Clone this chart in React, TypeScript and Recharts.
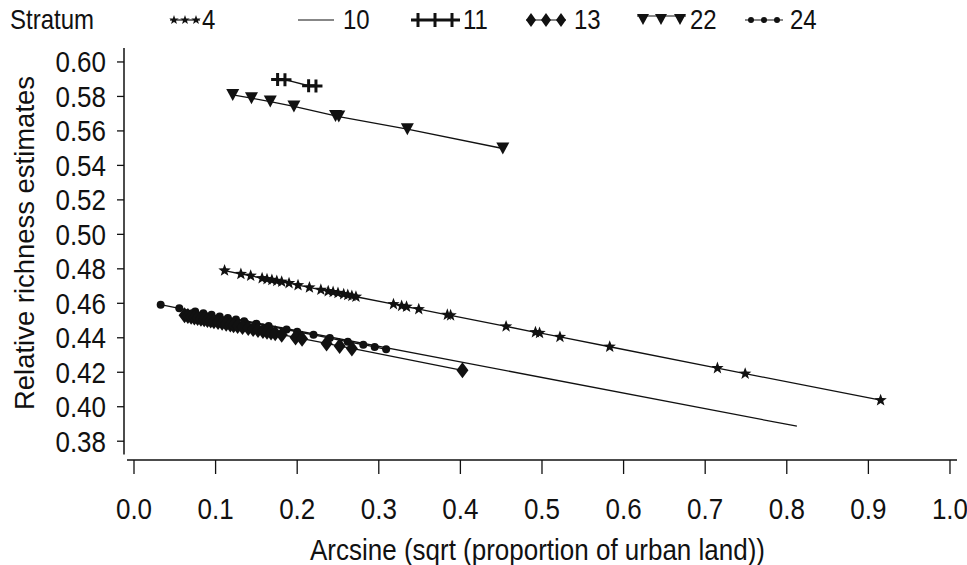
import React from 'react';
import { ScatterChart, Scatter, XAxis, YAxis, ReferenceLine, Legend } from 'recharts';

const FONT = '"Liberation Sans", Arial, Helvetica, sans-serif';

// Axis ticks
const xTicks = [0, 0.1, 0.2, 0.3, 0.4, 0.5, 0.6, 0.7, 0.8, 0.9, 1.0];
const yTicks = [0.38, 0.4, 0.42, 0.44, 0.46, 0.48, 0.5, 0.52, 0.54, 0.56, 0.58, 0.6];

const X_MIN = -0.01225;
const X_MAX = 1.0086;
const Y_MIN = 0.3691;
const Y_MAX = 0.6081;

// Stratum 4 (stars)
const stratum4 = [
  { x: 0.111, y: 0.479 }, { x: 0.131, y: 0.477 }, { x: 0.143, y: 0.476 }, { x: 0.157, y: 0.4745 },
  { x: 0.163, y: 0.474 }, { x: 0.169, y: 0.4735 }, { x: 0.175, y: 0.473 }, { x: 0.181, y: 0.4725 },
  { x: 0.19, y: 0.4717 }, { x: 0.201, y: 0.4705 }, { x: 0.215, y: 0.4692 }, { x: 0.229, y: 0.4678 },
  { x: 0.238, y: 0.467 }, { x: 0.244, y: 0.4665 }, { x: 0.25, y: 0.466 }, { x: 0.257, y: 0.4653 },
  { x: 0.262, y: 0.4648 }, { x: 0.267, y: 0.4643 }, { x: 0.272, y: 0.4638 }, { x: 0.318, y: 0.4595 },
  { x: 0.328, y: 0.4585 }, { x: 0.334, y: 0.458 }, { x: 0.349, y: 0.4566 }, { x: 0.384, y: 0.4533 },
  { x: 0.388, y: 0.453 }, { x: 0.456, y: 0.4466 }, { x: 0.492, y: 0.4432 }, { x: 0.497, y: 0.4428 },
  { x: 0.522, y: 0.4405 }, { x: 0.583, y: 0.4348 }, { x: 0.715, y: 0.4224 }, { x: 0.749, y: 0.4192 },
  { x: 0.915, y: 0.4038 },
];

// Stratum 10 (line only)
const stratum10 = [
  { x: 0.118, y: 0.4515 },
  { x: 0.8124, y: 0.3887 },
];

// Stratum 11 (plus)
const stratum11 = [
  { x: 0.176, y: 0.5898 }, { x: 0.185, y: 0.5897 }, { x: 0.214, y: 0.5862 }, { x: 0.223, y: 0.5861 },
];

// Stratum 13 (diamonds)
const stratum13 = [
  { x: 0.062, y: 0.453 }, { x: 0.066, y: 0.4526 }, { x: 0.07, y: 0.4522 }, { x: 0.074, y: 0.4518 },
  { x: 0.078, y: 0.4515 }, { x: 0.082, y: 0.4511 }, { x: 0.086, y: 0.4507 }, { x: 0.09, y: 0.4503 },
  { x: 0.094, y: 0.45 }, { x: 0.098, y: 0.4496 }, { x: 0.103, y: 0.4491 }, { x: 0.108, y: 0.4487 },
  { x: 0.113, y: 0.4482 }, { x: 0.118, y: 0.4477 }, { x: 0.122, y: 0.4473 }, { x: 0.127, y: 0.4469 },
  { x: 0.133, y: 0.4463 }, { x: 0.14, y: 0.4457 }, { x: 0.146, y: 0.4451 }, { x: 0.152, y: 0.4445 },
  { x: 0.158, y: 0.444 }, { x: 0.163, y: 0.4435 }, { x: 0.168, y: 0.443 }, { x: 0.173, y: 0.4426 },
  { x: 0.181, y: 0.4418 }, { x: 0.198, y: 0.4402 }, { x: 0.206, y: 0.4395 }, { x: 0.236, y: 0.4367 },
  { x: 0.252, y: 0.4352 }, { x: 0.267, y: 0.4338 }, { x: 0.4025, y: 0.4211 },
];

// Stratum 22 (triangles down)
const stratum22 = [
  { x: 0.121, y: 0.5809 }, { x: 0.144, y: 0.579 }, { x: 0.167, y: 0.577 }, { x: 0.196, y: 0.5742 },
  { x: 0.247, y: 0.5687 }, { x: 0.251, y: 0.5683 }, { x: 0.335, y: 0.561 }, { x: 0.452, y: 0.5498 },
];

// Stratum 24 (dots)
const stratum24 = [
  { x: 0.0327, y: 0.4592 }, { x: 0.0555, y: 0.4571 }, { x: 0.075, y: 0.4552 }, { x: 0.085, y: 0.4543 },
  { x: 0.095, y: 0.4534 }, { x: 0.105, y: 0.4524 }, { x: 0.115, y: 0.4515 }, { x: 0.125, y: 0.4506 },
  { x: 0.135, y: 0.4496 }, { x: 0.15, y: 0.4482 }, { x: 0.165, y: 0.4468 }, { x: 0.187, y: 0.4448 },
  { x: 0.2, y: 0.4435 }, { x: 0.22, y: 0.4417 }, { x: 0.24, y: 0.4398 }, { x: 0.262, y: 0.4377 },
  { x: 0.281, y: 0.436 }, { x: 0.295, y: 0.4347 }, { x: 0.309, y: 0.4333 },
];

const INK = '#111';
const STRETCH = 1.15;

const starPts = (cx: number, cy: number, R: number, r: number) => {
  const pts: string[] = [];
  for (let i = 0; i < 10; i++) {
    const a = -Math.PI / 2 + (i * Math.PI) / 5;
    const rad = i % 2 === 0 ? R : r;
    pts.push(`${cx + rad * Math.cos(a)},${cy + rad * Math.sin(a)}`);
  }
  return pts.join(' ');
};

const StarMark = (p: any) => <polygon points={starPts(p.cx, p.cy, 6.5, 2.7)} fill={INK} />;
const PlusMark = (p: any) => (
  <path d={`M${p.cx - 6.5},${p.cy}H${p.cx + 6.5}M${p.cx},${p.cy - 6.5}V${p.cy + 6.5}`} stroke={INK} strokeWidth={3} fill="none" />
);
const DiamondMark = (p: any) => (
  <polygon points={`${p.cx},${p.cy - 8} ${p.cx + 6},${p.cy} ${p.cx},${p.cy + 8} ${p.cx - 6},${p.cy}`} fill={INK} />
);
const TriMark = (p: any) => (
  <polygon points={`${p.cx - 6.5},${p.cy - 6} ${p.cx + 6.5},${p.cy - 6} ${p.cx},${p.cy + 6}`} fill={INK} />
);
const DotMark = (p: any) => <circle cx={p.cx} cy={p.cy} r={4} fill={INK} />;
const NoMark = () => <g />;

const lineStyle = { stroke: INK, strokeWidth: 1.3 };

// Text stretched vertically about its baseline (scan aspect of the original)
const SText = ({ x, y, size, anchor, children }: any) => (
  <g transform={`translate(${x},${y}) scale(1,${STRETCH})`}>
    <text x={0} y={0} textAnchor={anchor || 'start'} fontSize={size} fontFamily={FONT} fill={INK}>
      {children}
    </text>
  </g>
);

const XTick = (props: any) => {
  const { x, y, payload } = props;
  return (
    <SText x={x} y={y + 18.5} size={26} anchor="middle">
      {Number(payload.value).toFixed(1)}
    </SText>
  );
};

const YTick = (props: any) => {
  const { x, y, payload } = props;
  return (
    <SText x={x} y={y + 10.5} size={26} anchor="end">
      {Number(payload.value).toFixed(2)}
    </SText>
  );
};

const LegendContent = () => {
  const ty = 29;
  const my = 20;
  const t = (x: number, s: string) => <SText x={x} y={ty} size={24}>{s}</SText>;
  return (
    <svg width={967} height={44} style={{ display: 'block' }}>
      {t(10, 'Stratum')}
      {/* 4 */}
      <line x1={170} y1={my} x2={200} y2={my} stroke={INK} strokeWidth={1.2} />
      {[174, 185, 196].map((x) => <polygon key={x} points={starPts(x, my, 5, 2)} fill={INK} />)}
      {t(202, '4')}
      {/* 10 */}
      <line x1={298} y1={my} x2={334} y2={my} stroke={INK} strokeWidth={1.2} />
      {t(343, '10')}
      {/* 11 */}
      <line x1={411} y1={my} x2={460} y2={my} stroke={INK} strokeWidth={3} />
      {[418, 435, 452].map((x) => <path key={x} d={`M${x},${my - 7}V${my + 7}`} stroke={INK} strokeWidth={3} />)}
      {t(463, '11')}
      {/* 13 */}
      <line x1={526} y1={my} x2={566} y2={my} stroke={INK} strokeWidth={1.2} />
      {[531, 546, 561].map((x) => <polygon key={x} points={`${x},${my - 7} ${x + 5},${my} ${x},${my + 7} ${x - 5},${my}`} fill={INK} />)}
      {t(574, '13')}
      {/* 22 */}
      <line x1={637} y1={my - 4} x2={686} y2={my - 4} stroke={INK} strokeWidth={1.2} />
      {[643, 661, 680].map((x) => <polygon key={x} points={`${x - 6},${my - 6} ${x + 6},${my - 6} ${x},${my + 5}`} fill={INK} />)}
      {t(690, '22')}
      {/* 24 */}
      <line x1={745} y1={my} x2={783} y2={my} stroke={INK} strokeWidth={1.2} />
      {[751, 764, 777].map((x) => <circle key={x} cx={x} cy={my} r={3} fill={INK} />)}
      {t(790, '24')}
    </svg>
  );
};

const YTitle = () => {
  const cy = 243;
  const bx = 34;
  return (
    <text
      x={bx}
      y={cy}
      transform={`rotate(-90, ${bx}, ${cy})`}
      textAnchor="middle"
      fontSize={27}
      fontFamily={FONT}
      fill={INK}
      textLength={334}
      lengthAdjust="spacingAndGlyphs"
    >
      Relative richness estimates
    </text>
  );
};

const XTitle = (props: any) => {
  const vb = props.viewBox || { x: 124, width: 833 };
  const cx = vb.x + vb.width / 2 - 3;
  return (
    <SText x={cx} y={560} size={26} anchor="middle">
      Arcsine (sqrt (proportion of urban land))
    </SText>
  );
};

export default function App() {
  return (
    <div style={{ position: 'absolute', left: 0, top: 0, background: '#fff' }}>
      <ScatterChart width={967} height={565} margin={{ top: 48, right: 10, bottom: 0, left: 0 }}>
        <XAxis
          type="number"
          dataKey="x"
          domain={[X_MIN, X_MAX]}
          ticks={xTicks}
          interval={0}
          allowDataOverflow
          axisLine={false}
          tickLine={{ stroke: INK, strokeWidth: 1.3 }}
          tickSize={14}
          tickMargin={26}
          height={105}
          tick={<XTick />}
          label={<XTitle />}
        />
        <YAxis
          type="number"
          dataKey="y"
          domain={[Y_MIN, Y_MAX]}
          ticks={yTicks}
          interval={0}
          allowDataOverflow
          axisLine={false}
          tickLine={{ stroke: INK, strokeWidth: 1.3 }}
          tickSize={7}
          tickMargin={11}
          width={124}
          tick={<YTick />}
          label={<YTitle />}
        />
        <ReferenceLine
          segment={[{ x: X_MIN, y: 0.3723 }, { x: X_MIN, y: Y_MAX }]}
          stroke={INK}
          strokeWidth={1.5}
          ifOverflow="visible"
        />
        <ReferenceLine
          segment={[{ x: -0.0086, y: Y_MIN }, { x: X_MAX, y: Y_MIN }]}
          stroke={INK}
          strokeWidth={1.6}
          ifOverflow="visible"
        />
        <Legend
          layout="vertical"
          verticalAlign="middle"
          align="center"
          wrapperStyle={{ top: 0, left: 0, width: 967 }}
          content={<LegendContent />}
        />
        <Scatter name="10" data={stratum10} shape={NoMark} line={lineStyle} isAnimationActive={false} />
        <Scatter name="24" data={stratum24} shape={DotMark} line={lineStyle} isAnimationActive={false} />
        <Scatter name="13" data={stratum13} shape={DiamondMark} line={lineStyle} isAnimationActive={false} />
        <Scatter name="4" data={stratum4} shape={StarMark} line={lineStyle} isAnimationActive={false} />
        <Scatter name="22" data={stratum22} shape={TriMark} line={lineStyle} isAnimationActive={false} />
        <Scatter name="11" data={stratum11} shape={PlusMark} line={lineStyle} isAnimationActive={false} />
      </ScatterChart>
    </div>
  );
}
